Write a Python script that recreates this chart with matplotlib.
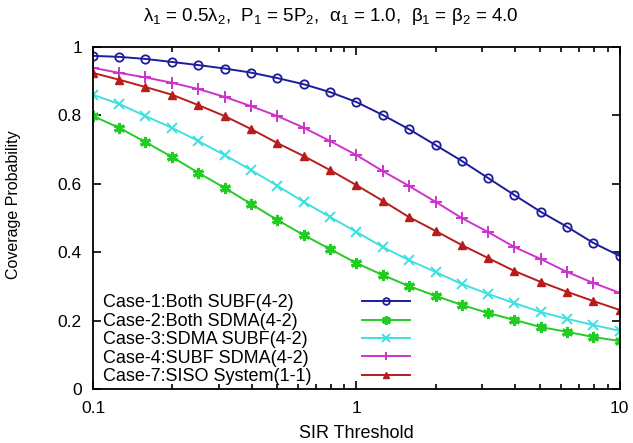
import numpy as np
import matplotlib
matplotlib.use('Agg')
from matplotlib import pyplot as plt
from matplotlib.lines import Line2D
from matplotlib.ticker import LogLocator, NullFormatter, FixedLocator

plt.rcParams['font.family'] = ['Liberation Sans', 'DejaVu Sans']
plt.rcParams['mathtext.fontset'] = 'custom'
plt.rcParams['mathtext.rm'] = 'Liberation Sans'
plt.rcParams['mathtext.it'] = 'Liberation Sans'

# SIR threshold points (log spaced 0.1 .. 10)
sir = [0.1, 0.126, 0.158, 0.2, 0.251, 0.316, 0.398, 0.501, 0.631, 0.794, 1.0,
       1.26, 1.58, 2.0, 2.51, 3.16, 3.98, 5.01, 6.31, 7.94, 10.0]

case1 = [0.974, 0.971, 0.965, 0.956, 0.947, 0.937, 0.925, 0.909, 0.891, 0.868, 0.839,
         0.801, 0.760, 0.713, 0.667, 0.617, 0.567, 0.518, 0.474, 0.427, 0.389]
case2 = [0.798, 0.763, 0.722, 0.678, 0.632, 0.588, 0.541, 0.494, 0.450, 0.409, 0.368,
         0.333, 0.301, 0.272, 0.246, 0.222, 0.202, 0.181, 0.167, 0.152, 0.140]
case3 = [0.860, 0.833, 0.798, 0.763, 0.725, 0.684, 0.640, 0.594, 0.547, 0.503, 0.459,
         0.415, 0.377, 0.342, 0.307, 0.278, 0.251, 0.225, 0.205, 0.187, 0.170]
case4 = [0.939, 0.924, 0.911, 0.895, 0.877, 0.854, 0.827, 0.798, 0.764, 0.725, 0.684,
         0.637, 0.594, 0.547, 0.500, 0.459, 0.415, 0.380, 0.342, 0.310, 0.281]
case7 = [0.924, 0.904, 0.883, 0.860, 0.830, 0.798, 0.760, 0.719, 0.681, 0.640, 0.596,
         0.550, 0.503, 0.462, 0.421, 0.383, 0.345, 0.313, 0.284, 0.257, 0.231]

labels = ['Case-1:Both SUBF(4-2)', 'Case-2:Both SDMA(4-2)', 'Case-3:SDMA SUBF(4-2)',
          'Case-4:SUBF SDMA(4-2)', 'Case-7:SISO System(1-1)']

fig = plt.figure(figsize=(6.33, 4.43), dpi=100)
ax = fig.add_axes([0.147, 0.122, 0.832, 0.772])

lines = []
lines += ax.plot(sir, case1, color='#1c1c9c', lw=1.4, marker='o', ms=6, mfc='none', mew=1.3)
lines += ax.plot(sir, case2, color='#22cc22', lw=1.4, marker=(6, 2, 0), ms=8, mew=2.2)
lines += ax.plot(sir, case3, color='#3fe0e0', lw=1.4, marker='x', ms=7, mew=1.4)
lines += ax.plot(sir, case4, color='#cc33cc', lw=1.4, marker='+', ms=8, mew=1.4)
lines += ax.plot(sir, case7, color='#b81c1c', lw=1.4, marker='^', ms=6)

ax.set_xscale('log')
ax.set_xlim(0.1, 10)
ax.set_ylim(0, 1)
ax.xaxis.set_major_locator(FixedLocator([0.1, 1, 10]))
ax.set_xticklabels(['0.1', '1', '10'])
ax.xaxis.set_minor_locator(LogLocator(base=10, subs=np.arange(2, 10)))
ax.xaxis.set_minor_formatter(NullFormatter())
ax.set_yticks([0, 0.2, 0.4, 0.6, 0.8, 1])
ax.set_yticklabels(['0', '0.2', '0.4', '0.6', '0.8', '1'])

ax.tick_params(which='both', direction='in', top=True, right=True, labelsize=12.5, width=1.2)
ax.tick_params(which='major', length=6)
ax.tick_params(axis='x', which='major', pad=9)
ax.tick_params(axis='y', which='major', pad=8)
ax.tick_params(which='minor', length=3.5)
for s in ax.spines.values():
    s.set_linewidth(1.3)

ax.set_xlabel('SIR Threshold', fontsize=13, labelpad=6)
ax.set_ylabel('Coverage Probability', fontsize=11.5)
ax.yaxis.set_label_coords(-0.137, 0.538)

fig.text(0.523, 0.962, r'$\mathrm{\lambda_1}$ = 0.5$\mathrm{\lambda_2}$,  P$_1$ = 5P$_2$,  '
         r'$\mathrm{\alpha_1}$ = 1.0,  $\mathrm{\beta_1}$ = $\mathrm{\beta_2}$ = 4.0',
         ha='center', va='center', fontsize=13.5)

# gnuplot-style key: text on the left, samples on the right
blank = [Line2D([], [], color='none') for _ in labels]
leg_txt = ax.legend(blank, labels, loc='lower left', bbox_to_anchor=(0.019, 0.011),
                    frameon=False, fontsize=13, labelspacing=0.08, handlelength=0,
                    handletextpad=0, borderaxespad=0, borderpad=0)
ax.add_artist(leg_txt)
leg_ln = ax.legend(lines, labels, loc='lower left', bbox_to_anchor=(0.510, 0.011),
                   frameon=False, fontsize=13, labelspacing=0.08, handlelength=2.7,
                   handletextpad=0, borderaxespad=0, borderpad=0, markerscale=0.8)
for t in leg_ln.get_texts():
    t.set_color('none')

fig.savefig('out.png', dpi=100)
